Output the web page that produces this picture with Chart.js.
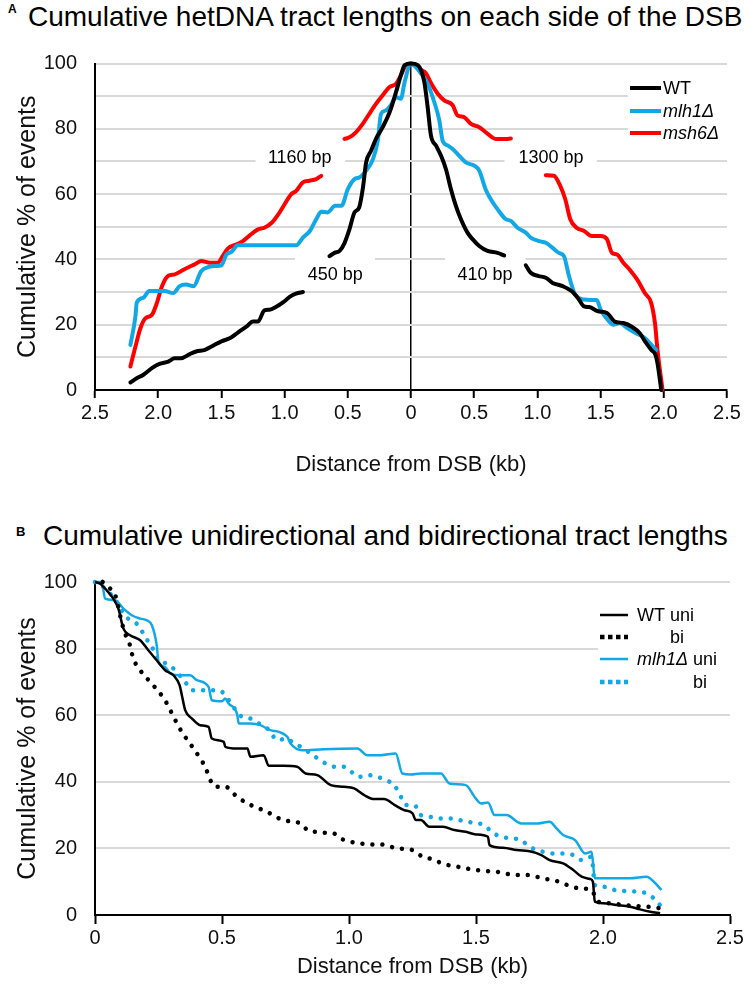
<!DOCTYPE html>
<html>
<head>
<meta charset="utf-8">
<script src="https://cdn.jsdelivr.net/npm/chart.js@4.4.0/dist/chart.umd.min.js"></script>
<style>
  html, body { margin: 0; padding: 0; background: #fff; }
  body { width: 746px; height: 993px; position: relative; overflow: hidden; font-family: "Liberation Sans", Arial, sans-serif; }
  .t { position: absolute; white-space: nowrap; line-height: 1; color: #000; z-index: 2; }
  .wrap { position: absolute; left: 0; z-index: 1; }
</style>
</head>
<body>
<div class="t" style="left:8px;top:3px;font-size:12px;font-weight:bold;">A</div>
<div class="t" style="left:28px;top:3px;font-size:28px;">Cumulative hetDNA tract lengths on each side of the DSB</div>
<div class="t" style="left:16px;top:525px;font-size:13px;font-weight:bold;">B</div>
<div class="t" style="left:43px;top:522px;font-size:28px;">Cumulative unidirectional and bidirectional tract lengths</div>
<div class="wrap" style="top:40px;width:746px;height:450px;"><canvas id="cA" width="746" height="450"></canvas></div>
<div class="wrap" style="top:560px;width:746px;height:433px;"><canvas id="cB" width="746" height="433"></canvas></div>
<script>
// ---------------- Panel A data (kb: negative = left of DSB) ----------------
const wtKb = [-2.22,-2.17,-2.12,-2.05,-1.99,-1.92,-1.87,-1.82,-1.75,-1.70,-1.63,-1.57,-1.50,-1.43,-1.37,-1.30,-1.25,-1.21,-1.16,-1.12,-1.07,-1.01,-0.96,-0.91,-0.855,-0.75,-0.645,-0.605,-0.565,-0.526,-0.487,-0.447,-0.41,-0.38,-0.355,-0.316,-0.276,-0.224,-0.17,-0.118,-0.08,-0.05,0,0.053,0.105,0.13,0.158,0.197,0.237,0.276,0.316,0.355,0.395,0.447,0.487,0.54,0.605,0.684,0.737,0.82,0.908,0.947,1.01,1.066,1.12,1.2,1.27,1.32,1.37,1.41,1.48,1.55,1.61,1.68,1.75,1.81,1.86,1.90,1.934,1.95,1.98];
const wtPct = [2.3,3.6,4.6,6.7,8.0,8.7,9.7,9.7,11,11.8,12.3,13.5,14.9,15.9,17.6,19.5,21,21,24.4,24.6,25.4,26.9,28.5,29.5,30,null,41,42,42.6,45,49.2,54.4,55.9,62,69.7,73.3,77,80.5,85,91.3,96.4,99.5,100,99.5,94.4,87.2,77.9,74.9,71.8,67.7,61.5,56.4,52.3,48.2,46.2,44.1,42.6,42,41.2,null,38.2,35.9,34.9,34.4,32.8,31.8,30.3,28.2,25.6,25.4,24.1,23.6,21,20.5,19.3,17.4,14.4,12.3,10.8,8.2,0];

const mlh1Kb = [-2.22,-2.18,-2.17,-2.12,-2.07,-2.01,-1.95,-1.88,-1.83,-1.78,-1.72,-1.66,-1.60,-1.54,-1.50,-1.46,-1.42,-1.37,-1.30,-1.24,-1.10,-0.908,-0.855,-0.80,-0.75,-0.71,-0.66,-0.60,-0.55,-0.50,-0.447,-0.408,-0.355,-0.30,-0.263,-0.237,-0.20,-0.16,-0.118,-0.08,-0.05,0,0.079,0.132,0.184,0.224,0.25,0.29,0.33,0.38,0.434,0.5,0.54,0.59,0.63,0.684,0.75,0.79,0.842,0.908,0.947,1.013,1.066,1.118,1.17,1.21,1.25,1.30,1.37,1.42,1.47,1.50,1.57,1.60,1.65,1.71,1.78,1.85,1.915,1.94];
const mlh1Pct = [13.8,22.6,26.7,28.2,30.3,30.3,30.3,29.7,31.8,32.3,31.8,36.4,37.7,38,38.2,41.5,42.3,44.3,44.3,44.3,44.3,44.3,46.7,48.7,52.3,54.6,54.4,56.4,56.4,61.5,64.6,65.1,67.2,70.8,76.4,84.6,85.6,87.2,89.7,89.2,94.4,100,96.9,93.8,88.2,82.6,76.4,74.9,73.8,71.8,69.7,68.7,67.2,61.5,58.5,55.4,52.3,51.8,49.7,48.2,46.7,45.6,45.1,43.6,42,41,34.9,29.1,27.7,27.6,27.6,24.6,20.9,20,20.5,19,17.4,15.9,13.3,12.3];

const msh6Kb = [-2.22,-2.18,-2.14,-2.10,-2.05,-2.01,-1.97,-1.92,-1.87,-1.82,-1.76,-1.71,-1.66,-1.59,-1.53,-1.49,-1.45,-1.38,-1.33,-1.28,-1.21,-1.16,-1.10,-1.05,-1.00,-0.947,-0.908,-0.855,-0.803,-0.75,-0.71,-0.62,-0.526,-0.487,-0.434,-0.382,-0.33,-0.276,-0.224,-0.17,-0.118,-0.08,-0.04,0,0.04,0.08,0.118,0.158,0.21,0.263,0.33,0.368,0.42,0.474,0.54,0.605,0.67,0.75,0.79,0.93,1.066,1.13,1.18,1.22,1.26,1.31,1.37,1.43,1.50,1.55,1.59,1.63,1.68,1.74,1.79,1.85,1.90,1.93,1.95,1.99];
const msh6Pct = [7.2,13.3,19,22,23,26.7,31.8,35,35.4,36.4,37.6,38.5,39.5,39,39,41,43.3,44.6,45.6,47.2,49.2,49.7,51.3,53.8,56.9,60,61,63.6,64.1,64.6,65.6,null,76.9,77.4,79,81.5,84.6,87.7,90.3,92.8,93.8,96.4,99.5,100,99,98,97,94,90.8,88.7,87.2,84.1,83.6,81.5,80.5,78.5,76.9,76.9,77,null,65.8,65.6,62.6,58.5,52.3,49.7,48.7,47.2,47.2,46.2,42,41.5,39,36.4,33.8,29.7,26.7,20.5,12.3,0];

const seriesA = ['WT', 'mlh1Δ', 'msh6Δ'];
const xTicksA = [-2.5, 2.5, 0.5];   // min, max, step
const yTicksA = [0, 100, 10];

// annotations of panel A: text
const annoTextA = ['1160 bp', '450 bp', '410 bp', '1300 bp'];

// ---------------- Panel B data ----------------
const wtUniKb = [0,0.02,0.046,0.072,0.092,0.112,0.138,0.178,0.21,0.243,0.276,0.309,0.333,0.342,0.355,0.382,0.414,0.447,0.46,0.507,0.513,0.559,0.6,0.612,0.664,0.684,0.743,0.796,0.829,0.875,0.928,0.98,1.02,1.06,1.1,1.138,1.18,1.217,1.25,1.263,1.283,1.316,1.37,1.415,1.46,1.5,1.547,1.553,1.606,1.66,1.72,1.757,1.79,1.843,1.883,1.916,1.95,1.96,1.968,2.0,2.053,2.106,2.146,2.186,2.225];
const wtUniPct = [100,99.5,97.5,95,92,86,84,82.5,79.5,76.5,73.5,72,69,66,61.5,59,57,56.5,53,52,50.5,50,50,47.5,48,44.8,44.8,44.5,42.5,42,39,38.5,38,36,34.8,34.8,33,31.5,30.5,28.5,28.5,26.5,26.5,25.5,25,24.2,23.5,21,20.2,19.5,19,18,16.5,15.5,13.5,11.5,10.8,10,4,3.5,3,2.5,1.7,1,0.5];

const wtBiKb = [0.03,0.06,0.08,0.105,0.118,0.132,0.151,0.178,0.217,0.257,0.283,0.303,0.33,0.355,0.388,0.414,0.434,0.454,0.474,0.513,0.559,0.6,0.645,0.678,0.71,0.743,0.776,0.81,0.836,0.868,0.9,0.94,0.967,1.006,1.046,1.08,1.11,1.145,1.178,1.217,1.25,1.29,1.316,1.35,1.39,1.428,1.46,1.5,1.54,1.58,1.61,1.66,1.7,1.738,1.777,1.817,1.843,1.876,1.91,1.955,1.98,2.03,2.08,2.133,2.17,2.205,2.225];
const wtBiPct = [100,98,96,88,84.5,82.5,77,73.5,70,66.5,63.5,60.5,56.5,53.5,50,47,44.5,40.5,38.5,38.5,35.5,33.5,32,31,29.5,28.5,28,27.5,25.5,25,24.7,24.5,23,22,21.5,21.2,21.2,21,20.2,19.8,19.5,17.5,17,16,15,14.5,14,13.5,13.2,13,12.5,12,12,11.5,10.8,10.2,9.5,8.5,8,7.5,4,3.5,3,2.7,2.5,2.3,2];

const mlhUniKb = [0,0.026,0.04,0.079,0.112,0.145,0.178,0.204,0.224,0.243,0.25,0.276,0.296,0.342,0.375,0.401,0.447,0.46,0.5,0.513,0.526,0.559,0.566,0.612,0.651,0.69,0.724,0.757,0.77,0.816,0.9,1.033,1.072,1.125,1.184,1.21,1.243,1.283,1.362,1.395,1.46,1.494,1.52,1.547,1.573,1.62,1.678,1.745,1.79,1.817,1.843,1.89,1.93,1.955,1.968,2.03,2.106,2.172,2.2,2.23];
const mlhUniPct = [100,100,95,94.5,92,90,89,88.5,87,81,76,74.5,72.5,72,72,70.5,68.5,64.5,64.2,65,63.5,60.5,57.5,57.5,57,55.5,55,53.5,51.5,49.5,49.8,50,48,48,48.5,42.5,42.2,42.5,42.5,39.5,39,35.5,33.5,33.8,30,30,27.5,27.5,28,26,24,22.5,18.5,19,11,11,11,11.5,10,7.5];

const mlhBiKb = [0,0.04,0.086,0.112,0.138,0.171,0.197,0.224,0.25,0.283,0.309,0.355,0.382,0.414,0.454,0.487,0.513,0.54,0.579,0.612,0.645,0.671,0.69,0.717,0.757,0.776,0.81,0.849,0.908,0.947,0.98,1.04,1.072,1.11,1.145,1.178,1.204,1.224,1.257,1.283,1.316,1.362,1.395,1.435,1.468,1.5,1.534,1.56,1.6,1.645,1.678,1.71,1.764,1.804,1.843,1.883,1.916,1.955,1.968,2.0,2.047,2.086,2.133,2.172,2.2,2.23];
const mlhBiPct = [100,98,94,90.5,88.5,87,83.5,80.5,76.5,75.5,74,70,67.5,67.5,67.5,67.5,66,63,59.5,59,57.5,56.5,55,52.5,53,52,50.5,48.5,45.5,44.5,44.5,41.5,42,41.5,40.5,39,35.5,33,33,30,29.5,29,29,28.5,28,27.5,27,25,23.5,23,22.5,20.5,19,18.5,18.5,18,16.5,17.5,9,8.5,7.5,7.2,7,6.5,5,2.5];

const xTicksB = [0, 2.5, 0.5];
const yTicksB = [0, 100, 20];

// ---------------- helpers / styling ----------------
const FONT = '"Liberation Sans", Arial, sans-serif';
Chart.defaults.font.family = FONT;
Chart.defaults.color = '#000';
const BLUE = '#12a8e6', RED = '#ff0000', BLACK = '#000000', GRID = '#d9d9d9';

function pts(xs, ys) { return xs.map((x, i) => ({ x: x, y: ys[i] })); }
function kbLabel(v) { return Math.abs(v) < 1e-9 ? '0' : Math.abs(v).toFixed(1); }

// Panel A overlay (label boxes, labels, legend); positions in data units
const annoPosA = [
  { x: -0.88, y: 71, x0: -1.23, x1: -0.52, y0: 65, y1: 76.5 },
  { x: -0.60, y: 35.2, x0: -0.918, x1: -0.285, y0: 31.5, y1: 40.8 },
  { x: 0.585, y: 35.2, x0: 0.27, x1: 0.905, y0: 31.5, y1: 40.8 },
  { x: 1.108, y: 71, x0: 0.74, x1: 1.47, y0: 65, y1: 76.5 }
];
const overlayA = {
  id: 'overlayA',
  beforeDatasetsDraw(chart) {
    const { ctx, scales: { x, y } } = chart;
    ctx.save();
    ctx.fillStyle = '#fff';
    annoPosA.forEach(a => {
      const px0 = x.getPixelForValue(a.x0), px1 = x.getPixelForValue(a.x1);
      const py0 = y.getPixelForValue(a.y1), py1 = y.getPixelForValue(a.y0);
      ctx.fillRect(px0, py0, px1 - px0, py1 - py0);
    });
    // legend box
    ctx.fillRect(628, 32, chart.chartArea.right - 628 + 2, 73);
    ctx.restore();
  },
  afterDatasetsDraw(chart) {
    const { ctx, scales: { x, y } } = chart;
    ctx.save();
    ctx.font = '18px ' + FONT;
    ctx.fillStyle = '#000';
    ctx.textAlign = 'center';
    ctx.textBaseline = 'middle';
    annoPosA.forEach((a, i) => {
      ctx.fillText(annoTextA[i], x.getPixelForValue(a.x), y.getPixelForValue(a.y));
    });
    // legend
    const rows = [48, 71, 93];
    ctx.textAlign = 'left';
    chart.data.datasets.forEach((ds, i) => {
      ctx.strokeStyle = ds.borderColor;
      ctx.lineWidth = 4;
      ctx.lineCap = 'butt';
      ctx.beginPath();
      ctx.moveTo(630, rows[i]);
      ctx.lineTo(661, rows[i]);
      ctx.stroke();
      ctx.font = (i === 0 ? '' : 'italic ') + '18px ' + FONT;
      ctx.fillStyle = '#000';
      ctx.fillText(seriesA[i], 663, rows[i] + 1);
    });
    ctx.restore();
  }
};

const lineBase = { pointRadius: 0, borderWidth: 4, cubicInterpolationMode: 'monotone', borderJoinStyle: 'round', borderCapStyle: 'round', spanGaps: false, clip: 6, fill: false };

const yTickCfg = { padding: 3, font: { size: 20 }, color: '#111' };
const yGridCfg = { color: GRID, lineWidth: 2, drawTicks: true, tickLength: 15, tickColor: 'rgba(0,0,0,0)' };

new Chart(document.getElementById('cA'), {
  type: 'line',
  data: {
    datasets: [
      Object.assign({ label: seriesA[0], data: pts(wtKb, wtPct), borderColor: BLACK }, lineBase),
      Object.assign({ label: seriesA[1], data: pts(mlh1Kb, mlh1Pct), borderColor: BLUE }, lineBase),
      Object.assign({ label: seriesA[2], data: pts(msh6Kb, msh6Pct), borderColor: RED }, lineBase)
    ]
  },
  options: {
    responsive: false,
    animation: false,
    events: [],
    layout: { padding: { top: 23.5, right: 19, left: 0, bottom: 0 } },
    plugins: { legend: { display: false }, tooltip: { enabled: false } },
    scales: {
      x: {
        type: 'linear', min: xTicksA[0], max: xTicksA[1],
        afterFit(s) { s.height = 100; },
        ticks: { stepSize: xTicksA[2], autoSkip: false, maxRotation: 0, padding: 3, font: { size: 20 }, color: '#111', callback: kbLabel },
        grid: {
          drawOnChartArea: true,
          color: c => (c.tick && Math.abs(c.tick.value) < 1e-9) ? '#000' : 'rgba(0,0,0,0)',
          lineWidth: 1.5, tickColor: '#000', tickLength: 8, tickWidth: 2
        },
        border: { display: true, color: '#000', width: 2 },
        title: { display: true, text: 'Distance from DSB (kb)', font: { size: 22 }, color: '#111', padding: { top: 0, bottom: 12 } }
      },
      y: {
        type: 'linear', min: yTicksA[0], max: yTicksA[1],
        afterFit(s) { s.width = 95; },
        ticks: Object.assign({ stepSize: yTicksA[2], callback: v => (v % 20 === 0 ? String(v) : '') }, yTickCfg),
        grid: yGridCfg,
        border: { display: true, color: '#000', width: 2 },
        title: { display: true, text: 'Cumulative % of events', font: { size: 25 }, color: '#111', padding: { top: 13, bottom: 0 } }
      }
    }
  },
  plugins: [overlayA]
});

// Panel B legend
const legendB = [
  { main: 'WT', rest: ' uni', italic: false },
  { main: '', rest: 'bi', italic: false, alignUnder: 0 },
  { main: 'mlh1Δ', rest: ' uni', italic: true },
  { main: '', rest: 'bi', italic: false, alignUnder: 2 }
];
const overlayB = {
  id: 'overlayB',
  beforeDatasetsDraw(chart) {
    const { ctx } = chart;
    ctx.save();
    ctx.fillStyle = '#fff';
    ctx.fillRect(598, 40, chart.chartArea.right - 598 + 2, 95);
    ctx.restore();
  },
  afterDatasetsDraw(chart) {
    const { ctx } = chart;
    const rows = [55, 77, 99, 122];
    const tx = 637;
    ctx.save();
    ctx.textBaseline = 'middle';
    ctx.textAlign = 'left';
    const startX = [];
    chart.data.datasets.forEach((ds, i) => {
      ctx.strokeStyle = ds.borderColor;
      ctx.lineCap = 'butt';
      if (ds.borderDash && ds.borderDash.length) {
        ctx.lineWidth = 4.5;
        ctx.setLineDash([4.5, 3.5]);
      } else {
        ctx.lineWidth = 2.5;
        ctx.setLineDash([]);
      }
      ctx.beginPath();
      ctx.moveTo(600, rows[i]);
      ctx.lineTo(628, rows[i]);
      ctx.stroke();
      ctx.setLineDash([]);
      const L = legendB[i];
      ctx.fillStyle = '#000';
      let x = tx;
      if (L.main) {
        ctx.font = (L.italic ? 'italic ' : '') + '18px ' + FONT;
        ctx.fillText(L.main, x, rows[i] + 1);
        x += ctx.measureText(L.main).width;
      }
      ctx.font = '18px ' + FONT;
      if (L.alignUnder !== undefined) {
        x = startX[L.alignUnder];
        ctx.fillText(L.rest, x, rows[i] + 1);
      } else {
        startX[i] = x + ctx.measureText(' ').width;
        ctx.fillText(L.rest, x, rows[i] + 1);
      }
    });
    ctx.restore();
  }
};

const solidB = { pointRadius: 0, borderWidth: 2.5, cubicInterpolationMode: 'monotone', borderJoinStyle: 'round', fill: false, clip: 6 };
const dotB = { pointRadius: 0, borderWidth: 4.5, borderDash: [0.01, 10], borderCapStyle: 'round', cubicInterpolationMode: 'monotone', fill: false, clip: 6 };

new Chart(document.getElementById('cB'), {
  type: 'line',
  data: {
    datasets: [
      Object.assign({ label: 'WT uni', data: pts(wtUniKb, wtUniPct), borderColor: BLACK }, solidB),
      Object.assign({ label: 'WT bi', data: pts(wtBiKb, wtBiPct), borderColor: BLACK }, dotB),
      Object.assign({ label: 'mlh1Δ uni', data: pts(mlhUniKb, mlhUniPct), borderColor: BLUE }, solidB),
      Object.assign({ label: 'mlh1Δ bi', data: pts(mlhBiKb, mlhBiPct), borderColor: BLUE }, dotB)
    ]
  },
  options: {
    responsive: false,
    animation: false,
    events: [],
    layout: { padding: { top: 22, right: 16, left: 0, bottom: 0 } },
    plugins: { legend: { display: false }, tooltip: { enabled: false } },
    scales: {
      x: {
        type: 'linear', min: xTicksB[0], max: xTicksB[1],
        afterFit(s) { s.height = 78; },
        ticks: { stepSize: xTicksB[2], autoSkip: false, maxRotation: 0, padding: 2, font: { size: 20 }, color: '#111', callback: v => (Math.abs(v) < 1e-9 ? '0' : v.toFixed(1)) },
        grid: { drawOnChartArea: false, tickColor: '#000', tickLength: 9, tickWidth: 2 },
        border: { display: true, color: '#000', width: 2 },
        title: { display: true, text: 'Distance from DSB (kb)', font: { size: 22 }, color: '#111', padding: { top: 0, bottom: 13 } }
      },
      y: {
        type: 'linear', min: yTicksB[0], max: yTicksB[1],
        afterFit(s) { s.width = 95; },
        ticks: Object.assign({ stepSize: yTicksB[2] }, yTickCfg),
        grid: yGridCfg,
        border: { display: true, color: '#000', width: 2 },
        title: { display: true, text: 'Cumulative % of events', font: { size: 25 }, color: '#111', padding: { top: 13, bottom: 0 } }
      }
    }
  },
  plugins: [overlayB]
});
</script>
</body>
</html>
